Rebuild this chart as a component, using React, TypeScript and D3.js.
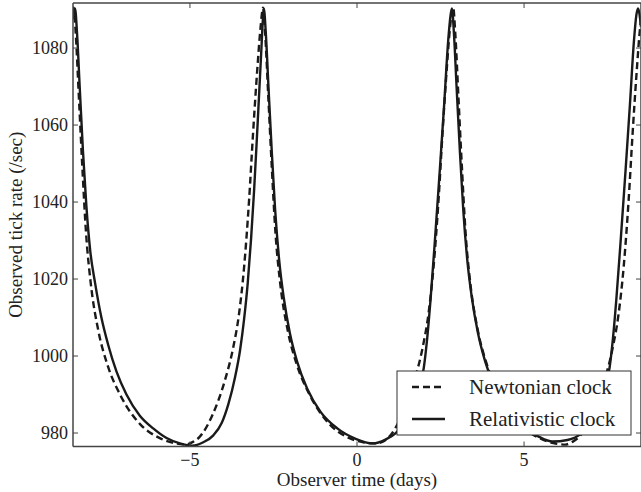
import { useEffect, useRef } from "react";
import * as d3 from "d3";

// values (days, ticks per second)
const relTime = [
  -8.5, -8.44, -8.38, -8.3, -8.2, -8.1, -7.98, -7.84, -7.65, -7.45, -7.2, -6.9, -6.5, -6.1, -5.7, -5.3, -4.93,
  -4.6, -4.3, -4.05, -3.85, -3.65, -3.5, -3.38, -3.27, -3.17, -3.08, -3.0, -2.93, -2.86, -2.83, -2.79,
  -2.73, -2.65, -2.55, -2.45, -2.33, -2.19, -2.01, -1.79, -1.49, -1.09, -0.59, -0.04, 0.48,
  0.85, 1.16, 1.45, 1.7, 1.88, 2.0, 2.1, 2.2, 2.34, 2.48, 2.61, 2.73, 2.8, 2.84,
  2.9, 2.98, 3.08, 3.18, 3.3, 3.44, 3.62, 3.84, 4.14, 4.54, 5.04, 5.45, 5.85,
  6.3, 6.72, 7.01, 7.26, 7.44, 7.56, 7.66, 7.76, 7.9, 8.04, 8.17, 8.29, 8.36, 8.41, 8.5,
];
const relRate = [
  1087.5, 1090.3, 1084, 1070, 1053, 1039, 1027, 1019, 1010, 1003, 996, 990, 984.5, 981.2, 978.7, 977.3, 976.7,
  977.6, 979.4, 982.6, 987.5, 994.5, 1001.5, 1009.5, 1019, 1030.5, 1043, 1056, 1068, 1080, 1085.5, 1090.3,
  1084, 1070, 1053, 1038, 1025, 1015, 1006, 998.5, 991.5, 985.5, 981.2, 978.5, 977.3,
  978.3, 980, 983, 987.5, 992, 997, 1004.5, 1014.5, 1031, 1048.5, 1065.5, 1082, 1088.5, 1090.3,
  1084, 1070, 1053, 1038, 1025, 1015, 1006, 998.5, 991.5, 985.5, 981.2, 979.0, 977.8,
  978.2, 980, 983, 987.5, 992, 997, 1004.5, 1014.5, 1031, 1048.5, 1065.5, 1082, 1088.5, 1090.3, 1085.5,
];

const newtTime = [
  -8.5, -8.48, -8.42, -8.32, -8.22, -8.11, -7.97, -7.74, -7.48, -7.08, -6.48, -5.93, -5.48, -5.13,
  -4.91, -4.71, -4.31, -3.96, -3.71, -3.53, -3.38, -3.23, -3.11, -2.98, -2.89, -2.81,
  -2.75, -2.65, -2.55, -2.44, -2.3, -2.07, -1.81, -1.41, -0.81, -0.26, 0.19, 0.54,
  0.76, 0.96, 1.36, 1.71, 1.96, 2.14, 2.29, 2.44, 2.56, 2.69, 2.78, 2.88,
  2.94, 3.04, 3.14, 3.25, 3.39, 3.62, 3.88, 4.28, 4.88, 5.43, 5.88, 6.23,
  6.45, 6.65, 7.05, 7.4, 7.65, 7.83, 7.98, 8.13, 8.25, 8.38, 8.47, 8.57,
];
const newtRate = [
  1089.8, 1090.5, 1084, 1066.5, 1049, 1032, 1019, 1006.5, 998, 989.8, 982.2, 978.8, 977.4, 977.0,
  977.7, 979.0, 985.0, 993.5, 1002, 1011, 1023, 1040.5, 1058, 1075, 1085, 1090.5,
  1084, 1066.5, 1049, 1032, 1019, 1006.5, 998, 989.8, 982.2, 978.8, 977.6, 977.3,
  977.7, 979.0, 985.0, 993.5, 1002, 1011, 1023, 1040.5, 1058, 1075, 1085, 1090.5,
  1084, 1066.5, 1049, 1032, 1019, 1006.5, 998, 989.8, 982.2, 978.8, 977.4, 977.0,
  977.7, 979.0, 985.0, 993.5, 1002, 1011, 1023, 1040.5, 1058, 1075, 1085, 1090.5,
];

const xTicks = [-5, 0, 5];
const yTicks = [980, 1000, 1020, 1040, 1060, 1080];
const legendLabels = ["Newtonian clock", "Relativistic clock"];

const FONT = "'Liberation Serif', 'DejaVu Serif', serif";

export default function App() {
  const ref = useRef<SVGSVGElement | null>(null);

  useEffect(() => {
    if (!ref.current) return;
    const width = 641;
    const height = 492;
    const margin = { top: 3, right: 0, bottom: 45.5, left: 73 };
    const innerW = width - margin.left - margin.right;
    const innerH = height - margin.top - margin.bottom;

    const svg = d3.select(ref.current);
    svg.selectAll("*").remove();

    const x = d3.scaleLinear().domain([-8.5, 8.5]).range([margin.left, margin.left + innerW]);
    const y = d3.scaleLinear().domain([976.5, 1091.7]).range([margin.top + innerH, margin.top]);

    svg.append("defs")
      .append("clipPath")
      .attr("id", "plot-clip")
      .append("rect")
      .attr("x", margin.left)
      .attr("y", margin.top)
      .attr("width", innerW)
      .attr("height", innerH);

    /* ---------------- CURVES ---------------- */

    const line = d3.line<[number, number]>()
      .x(d => x(d[0]))
      .y(d => y(d[1]))
      .curve(d3.curveMonotoneX);

    const newt: [number, number][] = newtTime.map((t, i) => [t, newtRate[i]]);
    const rel: [number, number][] = relTime.map((t, i) => [t, relRate[i]]);

    const plot = svg.append("g").attr("clip-path", "url(#plot-clip)");

    plot.append("path")
      .datum(newt)
      .attr("fill", "none")
      .attr("stroke", "#1a1a1a")
      .attr("stroke-width", 2.4)
      .attr("stroke-dasharray", "7,4")
      .attr("d", line);

    plot.append("path")
      .datum(rel)
      .attr("fill", "none")
      .attr("stroke", "#1a1a1a")
      .attr("stroke-width", 2.4)
      .attr("d", line);

    /* ---------------- AXES ---------------- */

    const x0 = margin.left;
    const x1 = margin.left + innerW;
    const y0 = margin.top;
    const y1 = margin.top + innerH;
    const tickLen = 5;
    const axisColor = "#444";

    const frame = svg.append("g").attr("stroke", axisColor).attr("stroke-width", 1.5);
    frame.append("line").attr("x1", x0).attr("x2", x1).attr("y1", y1).attr("y2", y1);
    frame.append("line").attr("x1", x0).attr("x2", x1).attr("y1", y0).attr("y2", y0);
    frame.append("line").attr("x1", x0).attr("x2", x0).attr("y1", y0).attr("y2", y1);
    frame.append("line").attr("x1", x1).attr("x2", x1).attr("y1", y0).attr("y2", y1);

    const ticks = svg.append("g").attr("stroke", axisColor).attr("stroke-width", 1);
    xTicks.forEach(t => {
      ticks.append("line").attr("x1", x(t)).attr("x2", x(t)).attr("y1", y1).attr("y2", y1 - tickLen);
      ticks.append("line").attr("x1", x(t)).attr("x2", x(t)).attr("y1", y0).attr("y2", y0 + tickLen);
    });
    yTicks.forEach(t => {
      ticks.append("line").attr("x1", x0).attr("x2", x0 + tickLen).attr("y1", y(t)).attr("y2", y(t));
      ticks.append("line").attr("x1", x1).attr("x2", x1 - tickLen).attr("y1", y(t)).attr("y2", y(t));
    });

    svg.append("g")
      .selectAll("text")
      .data(xTicks)
      .enter()
      .append("text")
      .attr("x", d => x(d))
      .attr("y", y1 + 19)
      .attr("text-anchor", "middle")
      .attr("font-family", FONT)
      .attr("font-size", 18)
      .attr("fill", "#222")
      .text(d => (d < 0 ? "\u2212" + Math.abs(d) : String(d)));

    svg.append("g")
      .selectAll("text")
      .data(yTicks)
      .enter()
      .append("text")
      .attr("x", x0 - 5)
      .attr("y", d => y(d) + 6)
      .attr("text-anchor", "end")
      .attr("font-family", FONT)
      .attr("font-size", 18)
      .attr("fill", "#222")
      .text(d => String(d));

    svg.append("text")
      .attr("x", x(0))
      .attr("y", 486)
      .attr("text-anchor", "middle")
      .attr("font-family", FONT)
      .attr("font-size", 19)
      .attr("fill", "#222")
      .text("Observer time (days)");

    svg.append("text")
      .attr("transform", `translate(22, ${(y0 + y1) / 2}) rotate(-90)`)
      .attr("text-anchor", "middle")
      .attr("font-family", FONT)
      .attr("font-size", 19)
      .attr("fill", "#222")
      .text("Observed tick rate (/sec)");

    /* ---------------- LEGEND ---------------- */

    const legend = svg.append("g").attr("transform", "translate(397, 371)");
    legend.append("rect")
      .attr("width", 234)
      .attr("height", 64)
      .attr("fill", "#fff")
      .attr("stroke", "#333")
      .attr("stroke-width", 1);

    legendLabels.forEach((label, i) => {
      const ly = 16 + i * 32;
      legend.append("line")
        .attr("x1", 15)
        .attr("x2", 48)
        .attr("y1", ly)
        .attr("y2", ly)
        .attr("stroke", "#1a1a1a")
        .attr("stroke-width", 2.4)
        .attr("stroke-dasharray", i === 0 ? "7,4" : null);
      legend.append("text")
        .attr("x", 72)
        .attr("y", ly + 7)
        .attr("font-family", FONT)
        .attr("font-size", 21)
        .attr("fill", "#222")
        .text(label);
    });
  }, []);

  return (
    <svg
      ref={ref}
      width={641}
      height={492}
      style={{ position: "absolute", left: 0, top: 0, background: "#fff" }}
    />
  );
}
